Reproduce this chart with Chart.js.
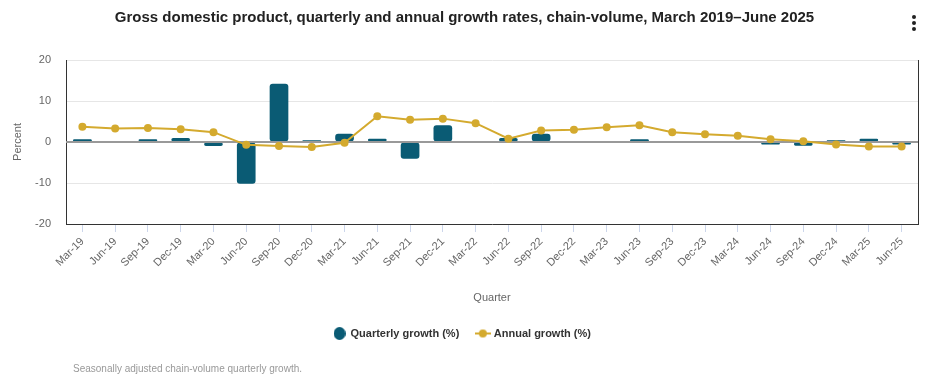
<!DOCTYPE html>
<html>
<head>
<meta charset="utf-8">
<script src="https://cdn.jsdelivr.net/npm/chart.js@4.4.1/dist/chart.umd.min.js"></script>
<style>
  body { margin: 0; background: #fff; font-family: "Liberation Sans", Arial, sans-serif; }
  #wrap { position: relative; width: 929px; height: 377px; }
  #title { position: absolute; top: 8px; left: 0; width: 929px; text-align: center;
           font-weight: bold; font-size: 15px; color: #222; }
  #menu { position: absolute; left: 912px; top: 15px; }
  #menu div { width: 4px; height: 4px; border-radius: 2px; background: #222; margin-bottom: 2px; }
  #caption { position: absolute; left: 73px; top: 363px; font-size: 10px; color: #999; }
  canvas { position: absolute; left: 0; top: 0; }
</style>
</head>
<body>
<div id="wrap">
  <canvas id="chart" width="929" height="377"></canvas>
  <div id="title">Gross domestic product, quarterly and annual growth rates, chain-volume, March 2019–June 2025</div>
  <div id="menu"><div></div><div></div><div></div></div>
  <div id="caption">Seasonally adjusted chain-volume quarterly growth.</div>
</div>
<script>
// data
const quarters = [
  "Mar-19", "Jun-19", "Sep-19", "Dec-19",
  "Mar-20", "Jun-20", "Sep-20", "Dec-20",
  "Mar-21", "Jun-21", "Sep-21", "Dec-21",
  "Mar-22", "Jun-22", "Sep-22", "Dec-22",
  "Mar-23", "Jun-23", "Sep-23", "Dec-23",
  "Mar-24", "Jun-24", "Sep-24", "Dec-24",
  "Mar-25", "Jun-25"
];
const quarterly = [
  0.7, 0.1, 0.7, 1.0,
  -1.0, -10.2, 14.2, 0.4,
  2.0, 0.8, -4.1, 4.1,
  0.0, 1.0, 2.0, -0.1,
  0.0, 0.7, -0.1, 0.0,
  0.0, -0.6, -0.9, 0.4,
  0.8, -0.6
];
const annual = [
  3.7, 3.3, 3.4, 3.1,
  2.4, -0.7, -1.0, -1.2,
  -0.2, 6.3, 5.4, 5.7,
  4.6, 0.8, 2.8, 3.0,
  3.6, 4.1, 2.4, 1.9,
  1.5, 0.7, 0.2, -0.6,
  -1.1, -1.1
];

const BAR = "#0a5b74";
const LINE = "#d4aa2e";

function marker(kind) {
  const c = document.createElement("canvas");
  const g = c.getContext("2d");
  if (kind === "bar") {
    c.width = 12; c.height = 13;
    g.fillStyle = BAR;
    g.beginPath();
    g.ellipse(6, 6.5, 6, 6.5, 0, 0, Math.PI * 2);
    g.fill();
  } else {
    c.width = 16; c.height = 10;
    g.strokeStyle = LINE;
    g.lineWidth = 2;
    g.beginPath();
    g.moveTo(0, 5); g.lineTo(16, 5);
    g.stroke();
    g.fillStyle = LINE;
    g.beginPath();
    g.arc(8, 5, 4, 0, Math.PI * 2);
    g.fill();
  }
  return c;
}
const markers = [marker("bar"), marker("line")];

// zero line on top of the bars, right frame line
const frame = {
  id: "frame",
  afterDatasetDraw(chart, args) {
    if (args.index !== 0) return;
    const { ctx, chartArea: a, scales: { y } } = chart;
    const y0 = Math.round(y.getPixelForValue(0));
    ctx.save();
    ctx.strokeStyle = "#999";
    ctx.lineWidth = 2;
    ctx.beginPath();
    ctx.moveTo(a.left, y0);
    ctx.lineTo(a.right, y0);
    ctx.stroke();
    ctx.restore();
  },
  afterDraw(chart) {
    const { ctx, chartArea: a } = chart;
    ctx.save();
    ctx.strokeStyle = "#333";
    ctx.lineWidth = 1;
    ctx.beginPath();
    ctx.moveTo(a.right + 0.5, a.top);
    ctx.lineTo(a.right + 0.5, a.bottom);
    ctx.stroke();
    ctx.restore();
  }
};

new Chart(document.getElementById("chart"), {
  data: {
    labels: quarters,
    datasets: [
      {
        type: "bar",
        label: "Quarterly growth (%)",
        data: quarterly,
        backgroundColor: BAR,
        borderRadius: 3,
        borderSkipped: false,
        barPercentage: 1,
        categoryPercentage: 0.57,
        order: 2
      },
      {
        type: "line",
        label: "Annual growth (%)",
        data: annual,
        borderColor: LINE,
        backgroundColor: LINE,
        borderWidth: 2,
        pointRadius: 4,
        pointBorderWidth: 0,
        pointBackgroundColor: LINE,
        tension: 0,
        order: 1
      }
    ]
  },
  options: {
    responsive: false,
    animation: false,
    layout: { padding: { top: 60, left: 7, right: 11, bottom: 28 } },
    plugins: {
      tooltip: { enabled: false },
      legend: {
        position: "bottom",
        labels: {
          usePointStyle: true,
          padding: 18,
          color: "#333",
          font: { family: "Liberation Sans", size: 11, weight: "bold" },
          generateLabels: (chart) => chart.data.datasets.map((ds, i) => ({
            text: ds.label,
            pointStyle: markers[i],
            datasetIndex: i,
            fillStyle: i === 0 ? BAR : LINE,
            strokeStyle: i === 0 ? BAR : LINE,
            lineWidth: 0,
            hidden: false,
            fontColor: "#333"
          }))
        }
      }
    },
    scales: {
      x: {
        offset: true,
        afterFit: (s) => { s.height = 86; },
        border: { color: "#333", width: 1 },
        grid: { offset: false, drawOnChartArea: false, drawTicks: true, tickLength: 8, tickColor: "#ccd6eb" },
        ticks: {
          autoSkip: false, maxRotation: 45, minRotation: 45,
          color: "#666", font: { family: "Liberation Sans", size: 11 }
        },
        title: {
          display: true, text: "Quarter", color: "#666",
          font: { family: "Liberation Sans", size: 11 },
          padding: { top: 4, bottom: 5 }
        }
      },
      y: {
        min: -20, max: 20,
        afterFit: (s) => { s.width = 59; },
        border: { color: "#333", width: 1 },
        grid: {
          drawTicks: false,
          color: (c) => c.tick.value === 0 ? "rgba(0,0,0,0)" : "#e6e6e6"
        },
        ticks: {
          stepSize: 10, padding: 15, color: "#666",
          font: { family: "Liberation Sans", size: 11 }
        },
        title: {
          display: true, text: "Percent", color: "#666",
          font: { family: "Liberation Sans", size: 11 },
          padding: { top: 4, bottom: 4 }
        }
      }
    }
  },
  plugins: [frame]
});
</script>
</body>
</html>
